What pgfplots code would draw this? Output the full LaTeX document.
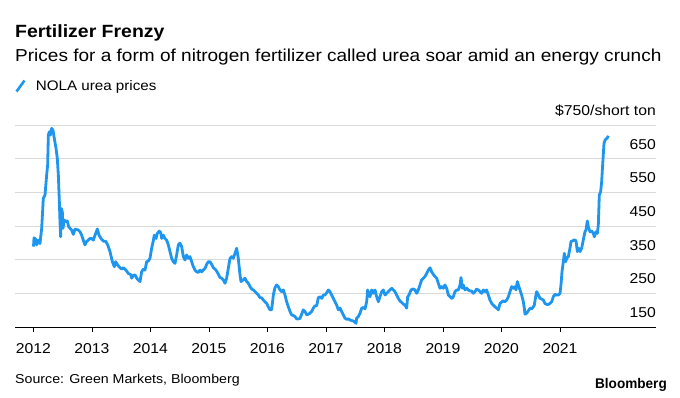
\documentclass[border=0pt]{standalone}
\usepackage{fontspec}
\setmainfont{Liberation Sans}[FakeStretch=1.1]
\newfontfamily\logofont{Liberation Sans}[FakeStretch=0.97]
\usepackage{pgfplots}
\pgfplotsset{compat=1.18}
\definecolor{bblue}{RGB}{30,150,240}
\definecolor{gridgray}{RGB}{217,217,217}
\begin{document}
\begin{tikzpicture}
\useasboundingbox (0pt,0pt) rectangle (680pt,-397pt);
\node[anchor=base west, inner sep=0pt] at (15pt,-37.7pt) {\fontsize{17.7}{20}\selectfont\bfseries Fertilizer Frenzy};
\node[anchor=base west, inner sep=0pt] at (15pt,-61pt) {\fontsize{17.3}{20}\selectfont Prices for a form of nitrogen fertilizer called urea soar amid an energy crunch};
\node[anchor=base west, inner sep=0pt] at (15pt,-383pt) {\fontsize{12.9}{15}\selectfont Source: Green Markets, Bloomberg};
\node[anchor=base east, inner sep=0pt] at (667pt,-388pt) {\logofont\fontsize{14}{16}\selectfont\bfseries Bloomberg};
\begin{axis}[
  at={(15pt,-327pt)}, anchor=south west,
  scale only axis, width=641pt, height=202pt,
  xmin=2011.684, xmax=2022.641, ymin=150, ymax=750,
  axis x line*=bottom, axis y line*=right,
  y axis line style={draw=none},
  x axis line style={black, line width=0.9pt},
  xtick={2012,2013,...,2021},
  ytick={150,250,350,450,550,650,750},
  yticklabels={150,250,350,450,550,650,\$750/short ton},
  ymajorgrids, grid style={gridgray, line width=0.9pt},
  tick align=outside, major tick length=5pt,
  xtick style={black, line width=0.8pt},
  ytick style={draw=none},
  /pgf/number format/assume math mode=true,
  /pgf/number format/1000 sep={},
  tick label style={font=\fontsize{14.3}{16}\selectfont},
  yticklabel style={anchor=base east, inner sep=0pt, yshift=9.5pt, xshift=-5pt},
  xticklabel style={anchor=north, inner sep=0pt, yshift=-11pt},
  clip=false,
  legend style={at={(axis description cs:0,1.193)}, anchor=west, draw=none, fill=none,
    inner sep=0pt, column sep=10pt, nodes={inner sep=0pt},
    font=\fontsize{13.8}{16}\selectfont},
  legend image code/.code={\draw[#1, line width=2.6pt] (0pt,-5.5pt) -- (8pt,5.5pt);},
]
\addplot[bblue, line width=2.8pt, line join=round] coordinates {
(2012.000,389) (2012.009,415) (2012.037,411) (2012.054,394) (2012.083,408)
(2012.111,398) (2012.140,443) (2012.168,532) (2012.197,542) (2012.225,601)
(2012.242,631) (2012.254,720) (2012.271,730) (2012.288,720) (2012.311,740)
(2012.333,735) (2012.356,710) (2012.385,681) (2012.407,651) (2012.425,601)
(2012.442,522) (2012.453,463) (2012.464,418) (2012.476,502) (2012.493,492)
(2012.504,443) (2012.527,468) (2012.550,463) (2012.578,465) (2012.601,448)
(2012.624,443) (2012.652,438) (2012.681,425) (2012.709,441) (2012.766,438)
(2012.795,433) (2012.823,423) (2012.852,408) (2012.880,394) (2012.909,404)
(2012.937,408) (2012.966,413) (2012.994,413) (2013.023,408) (2013.063,428)
(2013.091,441) (2013.120,423) (2013.154,413) (2013.194,405) (2013.234,405)
(2013.268,394) (2013.308,374) (2013.348,344) (2013.382,329) (2013.405,344)
(2013.439,334) (2013.479,326) (2013.507,322) (2013.536,326) (2013.564,322)
(2013.593,316) (2013.621,309) (2013.661,306) (2013.678,295) (2013.707,303)
(2013.735,305) (2013.764,295) (2013.792,290) (2013.821,285) (2013.849,314)
(2013.877,322) (2013.906,319) (2013.935,344) (2013.963,346) (2013.991,354)
(2014.020,384) (2014.048,406) (2014.065,423) (2014.094,413) (2014.117,428)
(2014.151,435) (2014.174,431) (2014.191,413) (2014.219,423) (2014.248,413)
(2014.276,408) (2014.305,394) (2014.333,374) (2014.362,354) (2014.390,344)
(2014.419,339) (2014.447,364) (2014.476,394) (2014.504,399) (2014.533,389)
(2014.561,359) (2014.590,349) (2014.618,364) (2014.647,354) (2014.675,359)
(2014.704,344) (2014.732,329) (2014.761,319) (2014.789,314) (2014.818,312)
(2014.846,319) (2014.875,314) (2014.903,319) (2014.932,324) (2014.960,336)
(2014.989,344) (2015.017,344) (2015.046,336) (2015.074,326) (2015.103,322)
(2015.131,316) (2015.159,307) (2015.188,297) (2015.217,295) (2015.245,290)
(2015.274,280) (2015.302,295) (2015.330,324) (2015.359,354) (2015.388,359)
(2015.416,354) (2015.444,369) (2015.473,384) (2015.501,354) (2015.530,305)
(2015.547,285) (2015.587,290) (2015.615,295) (2015.644,285) (2015.672,280)
(2015.701,270) (2015.729,263) (2015.758,260) (2015.786,255) (2015.815,250)
(2015.843,245) (2015.872,237) (2015.900,237) (2015.929,230) (2015.957,225)
(2015.986,220) (2016.014,210) (2016.043,201) (2016.071,201) (2016.100,245)
(2016.128,267) (2016.157,275) (2016.185,270) (2016.214,260) (2016.242,255)
(2016.271,260) (2016.299,245) (2016.328,225) (2016.356,210) (2016.385,196)
(2016.413,186) (2016.442,184) (2016.470,181) (2016.499,174) (2016.527,174)
(2016.556,176) (2016.584,188) (2016.612,201) (2016.641,196) (2016.670,186)
(2016.698,188) (2016.726,191) (2016.755,196) (2016.783,206) (2016.812,213)
(2016.841,213) (2016.869,237) (2016.897,240) (2016.926,235) (2016.955,245)
(2016.983,245) (2017.012,252) (2017.040,260) (2017.068,255) (2017.097,245)
(2017.126,235) (2017.154,225) (2017.183,215) (2017.211,201) (2017.240,206)
(2017.268,196) (2017.296,186) (2017.325,176) (2017.353,173) (2017.382,174)
(2017.410,171) (2017.439,169) (2017.467,168) (2017.496,164) (2017.513,161)
(2017.524,176) (2017.553,181) (2017.581,191) (2017.610,206) (2017.638,208)
(2017.667,204) (2017.695,225) (2017.712,260) (2017.735,245) (2017.752,240)
(2017.781,260) (2017.809,250) (2017.838,260) (2017.866,240) (2017.895,225)
(2017.923,240) (2017.952,255) (2017.980,260) (2018.009,245) (2018.037,250)
(2018.065,255) (2018.094,260) (2018.123,265) (2018.151,260) (2018.179,255)
(2018.208,245) (2018.236,235) (2018.265,227) (2018.294,223) (2018.322,218)
(2018.350,215) (2018.379,206) (2018.396,240) (2018.419,245) (2018.453,260)
(2018.493,263) (2018.521,260) (2018.550,250) (2018.578,260) (2018.607,275)
(2018.635,290) (2018.664,295) (2018.692,300) (2018.721,309) (2018.749,319)
(2018.778,326) (2018.795,319) (2018.806,314) (2018.835,306) (2018.863,300)
(2018.892,295) (2018.920,280) (2018.949,265) (2018.977,270) (2019.006,265)
(2019.034,275) (2019.063,265) (2019.091,245) (2019.120,240) (2019.148,235)
(2019.177,240) (2019.205,255) (2019.234,260) (2019.262,260) (2019.291,275)
(2019.308,297) (2019.330,265) (2019.347,275) (2019.376,260) (2019.405,265)
(2019.433,260) (2019.462,257) (2019.490,257) (2019.519,250) (2019.547,255)
(2019.576,263) (2019.604,260) (2019.632,255) (2019.661,250) (2019.689,260)
(2019.718,255) (2019.746,260) (2019.775,245) (2019.803,230) (2019.832,220)
(2019.860,215) (2019.889,210) (2019.917,206) (2019.946,201) (2019.974,220)
(2020.003,224) (2020.031,228) (2020.060,225) (2020.088,230) (2020.117,240)
(2020.145,255) (2020.174,270) (2020.202,265) (2020.231,270) (2020.248,260)
(2020.271,285) (2020.288,275) (2020.316,260) (2020.345,245) (2020.373,225)
(2020.390,206) (2020.402,188) (2020.430,191) (2020.459,198) (2020.487,206)
(2020.516,204) (2020.544,210) (2020.561,215) (2020.584,240) (2020.601,255)
(2020.630,245) (2020.658,235) (2020.687,233) (2020.715,230) (2020.744,220)
(2020.772,217) (2020.801,217) (2020.829,220) (2020.858,225) (2020.886,240)
(2020.915,247) (2020.943,245) (2020.972,245) (2021.000,250) (2021.017,275)
(2021.034,314) (2021.057,344) (2021.074,369) (2021.097,344) (2021.114,354)
(2021.142,359) (2021.171,384) (2021.188,404) (2021.217,406) (2021.245,409)
(2021.274,406) (2021.296,374) (2021.319,384) (2021.342,374) (2021.370,384)
(2021.399,409) (2021.427,433) (2021.444,438) (2021.467,465) (2021.484,448)
(2021.513,433) (2021.541,435) (2021.570,428) (2021.587,418) (2021.615,433)
(2021.638,428) (2021.655,453) (2021.672,542) (2021.695,552) (2021.712,582)
(2021.729,631) (2021.752,695) (2021.769,705) (2021.786,708) (2021.809,712)
(2021.826,718)
};
\addlegendentry{NOLA urea prices}
\end{axis}
\end{tikzpicture}
\end{document}
